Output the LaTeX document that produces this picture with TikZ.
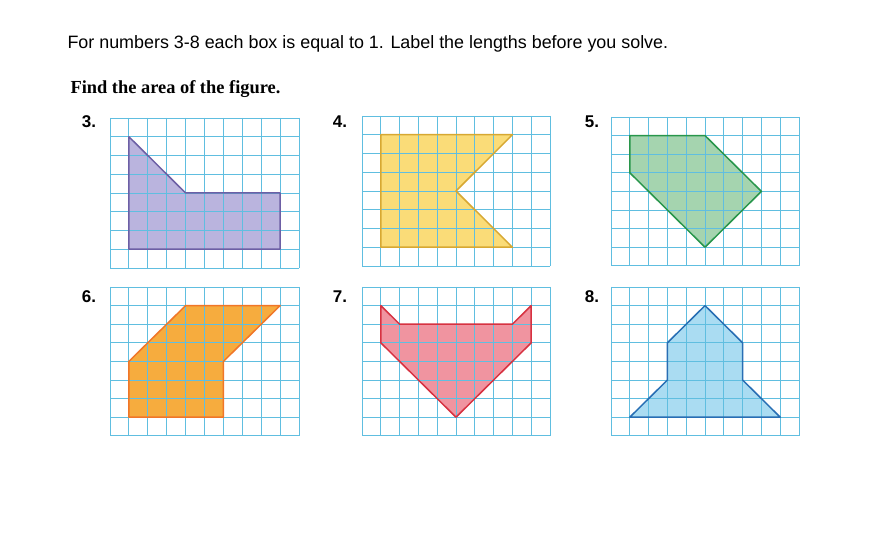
\documentclass[tikz,border=0pt]{standalone}
\usepackage{fontspec}
\setmainfont{Liberation Serif}
\setsansfont{Liberation Sans}
\definecolor{gridblue}{RGB}{96,190,224}
\definecolor{lilac}{RGB}{186,180,222}
\definecolor{lilacedge}{RGB}{108,95,165}
\definecolor{sunny}{RGB}{250,220,120}
\definecolor{sunnyedge}{RGB}{215,168,50}
\definecolor{mint}{RGB}{165,212,175}
\definecolor{mintedge}{RGB}{40,150,75}
\definecolor{tangerine}{RGB}{246,172,62}
\definecolor{tangerineedge}{RGB}{240,118,40}
\definecolor{rose}{RGB}{240,148,160}
\definecolor{roseedge}{RGB}{215,50,65}
\definecolor{sky}{RGB}{170,220,242}
\definecolor{skyedge}{RGB}{40,110,180}
\tikzset{
  gridline/.style={draw=gridblue, line width=0.95pt},
  figure/.style={line width=1.5pt, line join=round},
  numlabel/.style={font=\sffamily\bfseries\fontsize{17}{20}\selectfont},
}
\begin{document}
\begin{tikzpicture}[x=1pt,y=-1pt]
    \useasboundingbox (0,0) rectangle (877,534);
    \fill[white] (0,0) rectangle (877,534);
    \node[anchor=base west, font=\sffamily\fontsize{17.9}{21}\selectfont] (instr) at (64,49) {For numbers 3-8 each box is equal to 1. Label the lengths before you solve.};
    \node[anchor=base west, font=\bfseries\fontsize{18.4}{21}\selectfont] (task) at (67,94) {Find the area of the figure.};
    % labels
    \node[numlabel] (n3) at (89,122) {3.};
    \node[numlabel] (n4) at (340,122) {4.};
    \node[numlabel] (n5) at (592,122) {5.};
    \node[numlabel] (n6) at (89,297) {6.};
    \node[numlabel] (n7) at (340,297) {7.};
    \node[numlabel] (n8) at (592,297) {8.};
    % 3
    \begin{scope}[shift={(110,118)}, x=18.9pt, y=-18.75pt]
        \def\shape{(1,1) -- (4,4) -- (9,4) -- (9,7) -- (1,7) -- cycle}
        \fill[lilac] \shape;
        \foreach \i in {0,...,10} \draw[gridline] (\i,0) -- (\i,8);
        \foreach \j in {0,...,8} \draw[gridline] (0,\j) -- (10,\j);
        \draw[figure, lilacedge] \shape;
    \end{scope}
    % 4
    \begin{scope}[shift={(362,116)}, x=18.8pt, y=-18.75pt]
        \def\shape{(1,1) -- (8,1) -- (5,4) -- (8,7) -- (1,7) -- cycle}
        \fill[sunny] \shape;
        \foreach \i in {0,...,10} \draw[gridline] (\i,0) -- (\i,8);
        \foreach \j in {0,...,8} \draw[gridline] (0,\j) -- (10,\j);
        \draw[figure, sunnyedge] \shape;
    \end{scope}
    % 5
    \begin{scope}[shift={(611,117)}, x=18.8pt, y=-18.6pt]
        \def\shape{(1,1) -- (5,1) -- (8,4) -- (5,7) -- (1,3) -- cycle}
        \fill[mint] \shape;
        \foreach \i in {0,...,10} \draw[gridline] (\i,0) -- (\i,8);
        \foreach \j in {0,...,8} \draw[gridline] (0,\j) -- (10,\j);
        \draw[figure, mintedge] \shape;
    \end{scope}
    % 6
    \begin{scope}[shift={(110,287)}, x=18.9pt, y=-18.6pt]
        \def\shape{(1,4) -- (4,1) -- (9,1) -- (6,4) -- (6,7) -- (1,7) -- cycle}
        \fill[tangerine] \shape;
        \foreach \i in {0,...,10} \draw[gridline] (\i,0) -- (\i,8);
        \foreach \j in {0,...,8} \draw[gridline] (0,\j) -- (10,\j);
        \draw[figure, tangerineedge] \shape;
    \end{scope}
    % 7
    \begin{scope}[shift={(362,287)}, x=18.8pt, y=-18.6pt]
        \def\shape{(1,1) -- (2,2) -- (8,2) -- (9,1) -- (9,3) -- (5,7) -- (1,3) -- cycle}
        \fill[rose] \shape;
        \foreach \i in {0,...,10} \draw[gridline] (\i,0) -- (\i,8);
        \foreach \j in {0,...,8} \draw[gridline] (0,\j) -- (10,\j);
        \draw[figure, roseedge] \shape;
    \end{scope}
    % 8
    \begin{scope}[shift={(611,287)}, x=18.8pt, y=-18.6pt]
        \def\shape{(5,1) -- (7,3) -- (7,5) -- (9,7) -- (1,7) -- (3,5) -- (3,3) -- cycle}
        \fill[sky] \shape;
        \foreach \i in {0,...,10} \draw[gridline] (\i,0) -- (\i,8);
        \foreach \j in {0,...,8} \draw[gridline] (0,\j) -- (10,\j);
        \draw[figure, skyedge] \shape;
    \end{scope}
\end{tikzpicture}
\end{document}
